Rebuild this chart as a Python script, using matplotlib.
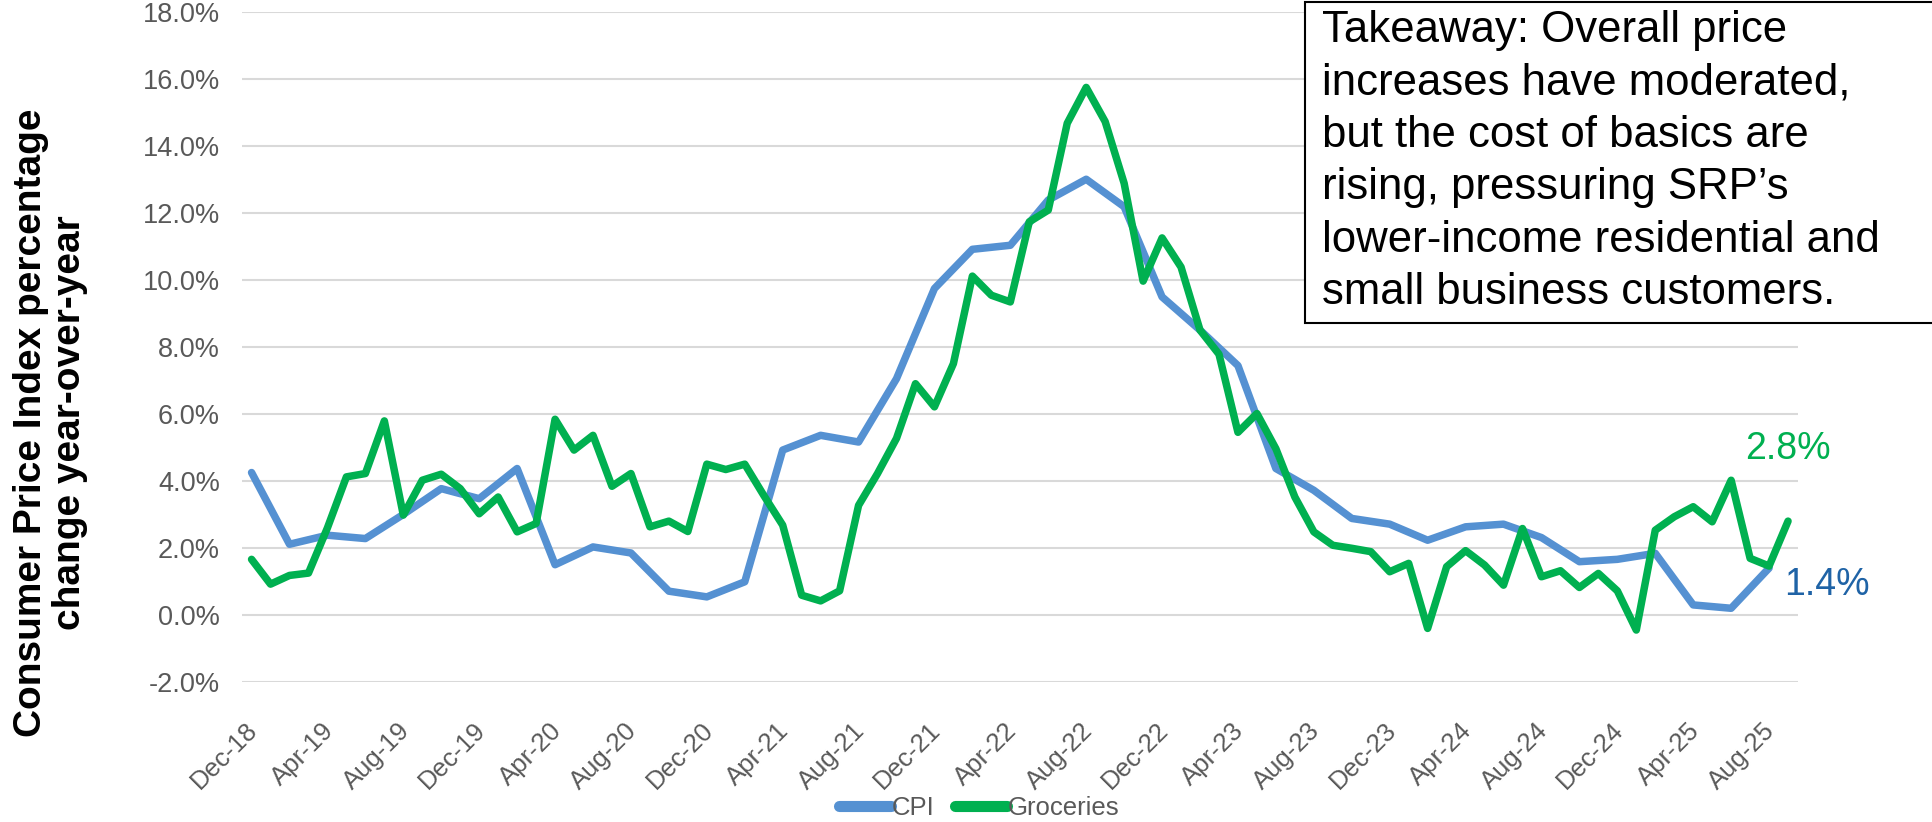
import numpy as np
import pandas as pd
import matplotlib
matplotlib.use("Agg")
import matplotlib.pyplot as plt
import matplotlib.transforms as mtransforms
from matplotlib.patches import Rectangle
from matplotlib.ticker import FuncFormatter, MultipleLocator

plt.rcParams['font.family'] = ['Liberation Sans', 'DejaVu Sans']

# monthly axis, Dec 2018 .. Sep 2025
months = pd.date_range("2018-12-01", "2025-09-01", freq="MS")
month_labels = [m.strftime("%b-%y") for m in months]

# groceries, year-over-year % (monthly)
groceries = [
    1.66, 0.92, 1.18, 1.25, 2.60, 4.12, 4.22, 5.79, 2.98, 4.02, 4.20, 3.77,
    3.02, 3.52, 2.48, 2.73, 5.84, 4.92, 5.36, 3.84, 4.22, 2.63, 2.80, 2.49,
    4.50, 4.34, 4.50, 3.57, 2.68, 0.59, 0.42, 0.72, 3.27, 4.22, 5.27, 6.90,
    6.21, 7.50, 10.11, 9.54, 9.34, 11.73, 12.08, 14.67, 15.74, 14.72, 12.88, 9.96,
    11.25, 10.38, 8.50, 7.78, 5.45, 6.01, 4.96, 3.52, 2.48, 2.08, 1.99, 1.89,
    1.29, 1.54, -0.40, 1.44, 1.92, 1.49, 0.89, 2.58, 1.14, 1.32, 0.82, 1.24,
    0.72, -0.45, 2.53, 2.93, 3.23, 2.78, 4.02, 1.69, 1.46, 2.80,
]

# CPI, year-over-year % (bi-monthly: Dec, Feb, Apr, Jun, Aug, Oct)
cpi = [
    4.25, 2.11, 2.38, 2.28, 3.00, 3.77, 3.47, 4.37, 1.50, 2.03, 1.85, 0.71,
    0.54, 0.99, 4.92, 5.36, 5.16, 7.05, 9.74, 10.91, 11.03, 12.38, 13.00, 12.18,
    9.49, 8.50, 7.44, 4.37, 3.72, 2.88, 2.71, 2.23, 2.63, 2.71, 2.31, 1.59,
    1.66, 1.84, 0.30, 0.20, 1.40,
]

takeaway = ("Takeaway: Overall price\n"
            "increases have moderated,\n"
            "but the cost of basics are\n"
            "rising, pressuring SRP\u2019s\n"
            "lower-income residential and\n"
            "small business customers.")

blue = "#5591D2"
green = "#00B050"
grey = "#595959"

x_all = np.arange(len(months))
x_cpi = x_all[::2]

fig = plt.figure(figsize=(19.32, 8.22), dpi=100)
ax = fig.add_axes([0.1253, 0.1703, 0.8051, 0.8155])

ax.plot(x_cpi, cpi, color=blue, lw=5.4, solid_joinstyle="round",
        solid_capstyle="round", label="CPI", zorder=3)
ax.plot(x_all, groceries, color=green, lw=5.4, solid_joinstyle="round",
        solid_capstyle="round", label="Groceries", zorder=4)

ax.set_xlim(-0.5, len(months) - 0.5)
ax.set_ylim(-2, 18)
ax.yaxis.set_major_locator(MultipleLocator(2))
ax.yaxis.set_major_formatter(FuncFormatter(lambda v, _: f"{v:.1f}%"))
ax.grid(axis="y", color="#D9D9D9", lw=1.5)
ax.set_axisbelow(True)
for s in ax.spines.values():
    s.set_visible(False)

ax.set_xticks(x_all[::4])
ax.set_xticklabels(month_labels[::4], rotation=45, ha="right",
                   rotation_mode="anchor")
ax.tick_params(axis="x", length=0, pad=26, labelsize=18.5, labelcolor=grey)
ax.tick_params(axis="y", length=0, pad=16, labelsize=19.5, labelcolor=grey)
shift = mtransforms.ScaledTranslation(-0.06, 0, fig.dpi_scale_trans)
for lab in ax.get_xticklabels():
    lab.set_transform(lab.get_transform() + shift)

# end-of-series labels
ax.annotate(f"{groceries[-1]:.1f}%", (x_all[-1], groceries[-1]),
            xytext=(0, 52), textcoords="offset points", ha="center",
            va="center", fontsize=27, color=green)
ax.annotate(f"{cpi[-1]:.1f}%", (x_cpi[-1], cpi[-1]),
            xytext=(11, -12), textcoords="offset points", ha="left",
            va="center", fontsize=27, color="#1F63A6")

fig.text(0.026, 0.486, "Consumer Price Index percentage\nchange year-over-year",
         rotation=90, ha="center", va="center", multialignment="center",
         fontsize=28, fontweight="bold", linespacing=1.1,
         family=["Liberation Sans Narrow", "Liberation Sans", "DejaVu Sans"])

leg = ax.legend(loc="center", bbox_to_anchor=(0.474, -0.188), ncol=2,
                frameon=False, fontsize=18.5, handlelength=2.0,
                handletextpad=0.05, columnspacing=0.8)
for t in leg.get_texts():
    t.set_color(grey)
for h in leg.get_lines():
    h.set_linewidth(8)

# takeaway box
fig.patches.append(Rectangle((0.6755, 0.607), 0.34, 0.3905,
                             transform=fig.transFigure, facecolor="white",
                             edgecolor="black", lw=1.5, zorder=5))
fig.text(0.6843, 0.988, takeaway, ha="left", va="top", fontsize=31.5,
         linespacing=1.36, color="black", zorder=6)

fig.savefig("out.png", dpi=100)
